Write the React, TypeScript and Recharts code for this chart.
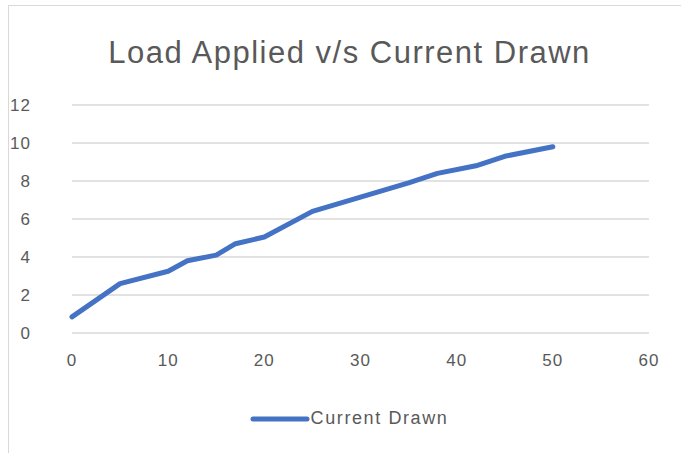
import { CartesianGrid, Legend, Line, LineChart, XAxis, YAxis } from "recharts";

const loads = [0, 5, 10, 12, 15, 17, 20, 25, 30, 35, 38, 42, 45, 50];
const current = [0.85, 2.6, 3.25, 3.8, 4.1, 4.7, 5.05, 6.4, 7.15, 7.9, 8.4, 8.8, 9.3, 9.8];
const xTicks = [0, 10, 20, 30, 40, 50, 60];
const yTicks = [0, 2, 4, 6, 8, 10, 12];

const data = loads.map((load, i) => ({ load, current: current[i] }));

const FONT = "'Liberation Sans', Arial, sans-serif";
const GREY = "#595959";
const BLUE = "#4472c4";

function LegendContent() {
    return (
        <div style={{ display: "flex", justifyContent: "center", alignItems: "center", fontFamily: FONT, fontSize: 18, color: GREY, letterSpacing: 1.6, paddingLeft: 40 }}>
            <svg width={60} height={8} style={{ marginRight: 1 }}>
                <line x1={3} y1={4} x2={57} y2={4} stroke={BLUE} strokeWidth={5} strokeLinecap="round" />
            </svg>
            <span>Current Drawn</span>
        </div>
    );
}

export default function App() {
    return (
        <div
            style={{
                position: "absolute",
                left: 8,
                top: 5,
                width: 700,
                height: 460,
                border: "1px solid #d9d9d9",
                background: "#fff",
            }}
        >
            <div
                style={{
                    position: "absolute",
                    top: 29,
                    left: 0,
                    width: 673,
                    textAlign: "center",
                    fontFamily: FONT,
                    fontSize: 31,
                    color: GREY,
                    letterSpacing: 1.5,
                    paddingLeft: 4,
                }}
            >
                Load Applied v/s Current Drawn
            </div>
            <LineChart width={673} height={448} data={data} margin={{ top: 99, right: 33, left: 0, bottom: 30 }}>
                <CartesianGrid horizontal vertical={false} stroke="#d9d9d9" strokeWidth={1.5} />
                <XAxis
                    dataKey="load"
                    type="number"
                    domain={[0, 60]}
                    ticks={xTicks}
                    axisLine={false}
                    tickLine={false}
                    tickSize={0}
                    tickMargin={21}
                    tick={{ fill: GREY, fontSize: 17, fontFamily: FONT, letterSpacing: 1 }}
                    height={70}
                />
                <YAxis
                    type="number"
                    domain={[0, 12]}
                    ticks={yTicks}
                    axisLine={false}
                    tickLine={false}
                    tickSize={0}
                    tickMargin={41}
                    width={63}
                    tick={{ fill: GREY, fontSize: 17, fontFamily: FONT, letterSpacing: 1 }}
                />
                <Legend verticalAlign="bottom" content={<LegendContent />} wrapperStyle={{ bottom: 25 }} />
                <Line
                    dataKey="current"
                    stroke={BLUE}
                    strokeWidth={5}
                    dot={false}
                    strokeLinecap="round"
                    strokeLinejoin="round"
                    isAnimationActive={false}
                />
            </LineChart>
        </div>
    );
}
